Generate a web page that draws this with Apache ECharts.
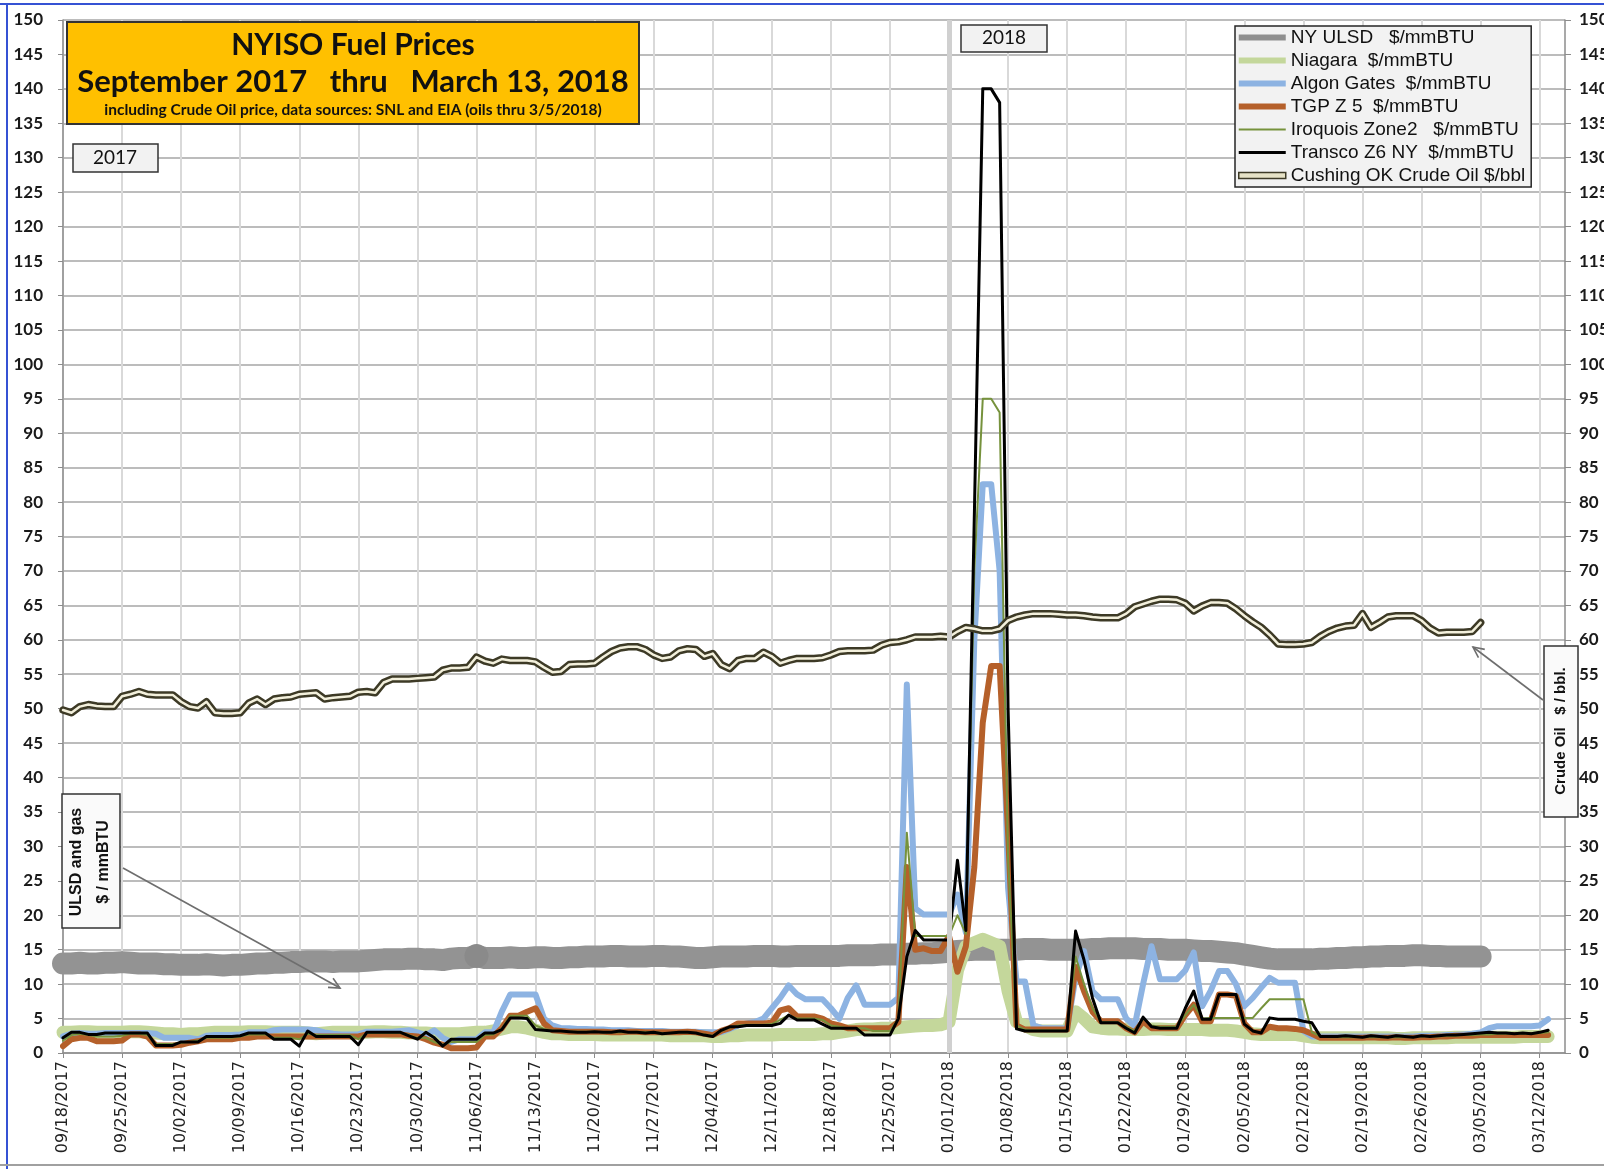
<!DOCTYPE html>
<html>
<head>
<meta charset="utf-8">
<script src="https://cdn.jsdelivr.net/npm/echarts/dist/echarts.min.js"></script>
</head>
<body style="margin:0;background:#fff;">
<div id="main" style="width:1604px;height:1169px;"></div>
<script>
// daily axis, 09/18/2017 .. 03/15/2018
var startDay = [2017, 8, 18];
var dayCount = 179;
var days = [];
for (var i = 0; i < dayCount; i++) {
    var d = new Date(startDay[0], startDay[1], startDay[2] + i);
    var mm = ('0' + (d.getMonth() + 1)).slice(-2), dd = ('0' + d.getDate()).slice(-2);
    days.push(mm + '/' + dd + '/' + d.getFullYear());
}
var yearLineDay = '01/01/2018';

// $/mmBTU, one row per week
var ulsd = [
    13.0, 13.0, 13.1, 13.0, 13.0, 13.1, 13.1,
    13.2, 13.1, 13.0, 13.0, 13.0, 12.9, 12.9,
    12.8, 12.8, 12.8, 12.9, 12.8, 12.7, 12.8,
    12.8, 12.9, 13.0, 13.0, 13.1, 13.1, 13.2,
    13.2, 13.3, 13.3, 13.3, 13.2, 13.3, 13.3,
    13.3, 13.4, 13.5, 13.6, 13.6, 13.6, 13.7,
    13.7, 13.6, 13.6, 13.5, 13.7, 13.8, 13.8,
    14.1, 13.8, 13.8, 13.8, 13.9, 13.8, 13.8,
    13.9, 13.9, 13.8, 13.8, 13.9, 13.9, 14.0,
    14.0, 14.0, 14.1, 14.1, 14.0, 14.0, 14.0,
    14.1, 14.1, 14.0, 14.0, 13.9, 13.8, 13.8,
    13.9, 14.0, 14.0, 14.0, 14.0, 14.1, 14.1,
    14.1, 14.0, 14.0, 14.1, 14.1, 14.1, 14.1,
    14.1, 14.1, 14.2, 14.2, 14.2, 14.2, 14.3,
    14.3, 14.3, 14.4, 14.4, 14.5, 14.5, 14.6,
    14.7, 14.8, 14.9, 15.0, 15.0, 15.0, 15.0,
    15.0, 15.0, 15.1, 15.1, 15.1, 15.0, 15.0,
    15.0, 15.0, 15.0, 15.1, 15.1, 15.2, 15.2,
    15.2, 15.2, 15.1, 15.1, 15.1, 15.0, 15.0,
    15.0, 14.9, 14.8, 14.8, 14.7, 14.6, 14.5,
    14.3, 14.1, 13.9, 13.7, 13.6, 13.6, 13.6,
    13.6, 13.6, 13.7, 13.7, 13.8, 13.8, 13.9,
    13.9, 14.0, 14.0, 14.1, 14.1, 14.1, 14.2,
    14.2, 14.1, 14.1, 14.0, 14.0, 14.0, 14.0,
    14.0, null, null, null, null, null, null,
    null, null, null, null
];
var ulsdDotIndex = 49;

var niagara = [
    3.0, 3.0, 3.1, 3.1, 3.0, 3.0, 3.0,
    3.0, 3.1, 3.1, 3.0, 2.9, 2.8, 2.8,
    2.7, 2.8, 2.8, 2.9, 3.0, 3.0, 3.0,
    3.0, 3.1, 3.1, 3.1, 3.0, 3.0, 3.0,
    3.0, 2.9, 2.8, 2.9, 3.0, 3.0, 3.0,
    3.0, 3.0, 3.1, 3.1, 3.0, 3.0, 2.9,
    2.9, 2.9, 2.8, 2.8, 2.8, 2.8, 2.9,
    3.0, 3.0, 3.2, 3.5, 3.8, 3.8, 3.6,
    3.3, 3.0, 2.8, 2.8, 2.7, 2.7, 2.7,
    2.7, 2.6, 2.6, 2.6, 2.6, 2.6, 2.6,
    2.6, 2.6, 2.5, 2.5, 2.5, 2.5, 2.5,
    2.4, 2.4, 2.5, 2.5, 2.6, 2.6, 2.6,
    2.6, 2.7, 2.7, 2.7, 2.7, 2.7, 2.8,
    2.8, 3.0, 3.2, 3.4, 3.5, 3.5, 3.6,
    3.6, 3.7, 3.8, 3.9, 4.0, 4.0, 4.1,
    4.5, 12.0, 15.5, 16.0, 16.5, 16.0, 15.5,
    9.0, 4.5, 4.0, 3.4, 3.2, 3.2, 3.2,
    3.2, 6.0, 5.0, 3.8, 3.6, 3.5, 3.5,
    3.4, 3.4, 3.4, 3.5, 3.5, 3.4, 3.4,
    3.4, 3.4, 3.4, 3.3, 3.3, 3.3, 3.2,
    3.0, 2.8, 2.7, 2.7, 2.7, 2.7, 2.7,
    2.5, 2.3, 2.2, 2.2, 2.2, 2.2, 2.2,
    2.2, 2.2, 2.2, 2.2, 2.1, 2.1, 2.2,
    2.2, 2.2, 2.2, 2.2, 2.3, 2.3, 2.3,
    2.3, 2.3, 2.3, 2.3, 2.3, 2.4, 2.4,
    2.4, 2.4, null, null
];

var algonquin = [
    2.4, 2.8, 2.9, 2.8, 2.8, 2.9, 2.9,
    2.9, 2.9, 2.9, 2.9, 2.8, 2.2, 2.2,
    2.2, 2.2, 2.0, 2.5, 2.6, 2.6, 2.6,
    2.7, 3.0, 3.0, 3.0, 3.3, 3.4, 3.4,
    3.4, 3.4, 3.3, 3.0, 2.8, 2.7, 2.7,
    2.7, 3.1, 3.1, 3.1, 3.1, 3.2, 3.3,
    3.0, 2.6, 3.3, 2.2, 1.6, 2.0, 2.0,
    2.0, 3.0, 3.0, 6.0, 8.5, 8.5, 8.5,
    8.5, 5.0, 4.0, 3.6, 3.6, 3.5, 3.5,
    3.4, 3.4, 3.3, 3.3, 3.3, 3.2, 3.2,
    3.2, 3.2, 3.1, 3.1, 3.1, 3.1, 3.0,
    3.0, 3.0, 3.5, 4.0, 4.3, 4.5, 5.0,
    6.5, 8.0, 9.8, 8.5, 7.8, 7.8, 7.8,
    6.5, 5.0, 8.0, 9.8, 7.0, 7.0, 7.0,
    7.0, 8.0, 53.5, 21.0, 20.1, 20.1, 20.1,
    20.1, 23.0, 17.5, 60.0, 82.6, 82.6, 70.0,
    24.0, 10.4, 10.4, 4.0, 3.6, 3.6, 3.6,
    3.6, 11.0, 14.8, 9.0, 7.8, 7.8, 7.8,
    5.0, 3.9, 10.0, 15.5, 10.7, 10.7, 10.7,
    12.0, 14.6, 6.8, 9.0, 11.9, 11.9, 10.0,
    6.8, 8.0, 9.5, 10.9, 10.2, 10.2, 10.2,
    3.2, 2.4, 2.4, 2.4, 2.4, 2.4, 2.4,
    2.4, 2.4, 2.4, 2.4, 2.4, 2.4, 2.4,
    2.5, 2.5, 2.5, 2.6, 2.6, 2.7, 2.8,
    3.0, 3.6, 3.9, 3.9, 3.9, 3.9, 3.9,
    4.0, 4.9, null, null
];

var tgpZ5 = [
    1.0, 2.0, 2.2, 2.2, 1.7, 1.7, 1.7,
    1.8, 2.7, 2.7, 2.4, 1.1, 1.1, 1.1,
    1.2, 1.5, 1.7, 2.0, 2.0, 2.0, 2.0,
    2.2, 2.2, 2.4, 2.4, 2.4, 2.4, 2.4,
    2.4, 2.4, 2.4, 2.4, 2.4, 2.4, 2.4,
    2.4, 2.7, 2.7, 2.7, 2.7, 2.7, 2.5,
    2.4, 2.0, 1.5, 1.2, 0.7, 0.7, 0.7,
    0.8, 2.4, 2.4, 3.6, 5.4, 5.4, 6.0,
    6.5, 4.3, 3.3, 3.2, 3.1, 3.1, 3.1,
    3.1, 3.1, 3.0, 3.0, 3.1, 3.1, 3.0,
    3.0, 3.0, 3.0, 3.0, 3.1, 3.0, 2.8,
    2.6, 3.2, 3.6, 4.3, 4.3, 4.3, 4.3,
    4.4, 6.2, 6.5, 5.3, 5.3, 5.3, 5.0,
    4.3, 4.0, 3.6, 3.6, 3.6, 3.6, 3.6,
    3.6, 4.5, 27.0, 15.0, 15.2, 14.8, 14.8,
    17.0, 11.8, 15.5, 27.0, 48.0, 56.2, 56.2,
    32.0, 4.0, 3.4, 3.4, 3.4, 3.4, 3.4,
    3.4, 12.5, 9.0, 6.0, 4.6, 4.6, 4.6,
    3.6, 3.0, 4.6, 3.6, 3.6, 3.6, 3.6,
    5.5, 7.0, 4.6, 4.6, 8.5, 8.5, 8.3,
    4.3, 3.0, 3.0, 3.8, 3.6, 3.6, 3.5,
    3.3, 2.8, 2.2, 2.2, 2.2, 2.2, 2.2,
    2.2, 2.3, 2.2, 2.2, 2.3, 2.2, 2.2,
    2.3, 2.3, 2.4, 2.4, 2.5, 2.5, 2.5,
    2.6, 2.6, 2.6, 2.6, 2.6, 2.6, 2.6,
    2.6, 2.6, null, null
];

var iroquois = [
    1.8, 2.6, 2.8, 2.6, 2.4, 2.4, 2.4,
    2.5, 2.8, 2.8, 2.6, 1.3, 1.3, 1.3,
    1.5, 1.6, 1.8, 2.2, 2.2, 2.2, 2.2,
    2.4, 2.7, 2.7, 2.7, 2.2, 2.2, 2.2,
    2.0, 2.8, 2.6, 2.6, 2.6, 2.6, 2.6,
    2.0, 2.9, 2.9, 2.9, 2.9, 2.9, 2.6,
    2.2, 2.2, 1.6, 1.2, 1.6, 1.6, 1.6,
    1.6, 2.6, 2.7, 3.5, 5.4, 5.4, 5.4,
    4.0, 3.5, 3.3, 3.2, 3.1, 3.1, 3.1,
    3.1, 3.0, 3.0, 3.0, 3.0, 3.1, 3.0,
    3.0, 2.9, 2.9, 3.0, 3.0, 2.9, 2.7,
    2.5, 3.2, 3.7, 4.0, 4.1, 4.1, 4.1,
    4.2, 4.8, 5.5, 5.0, 5.0, 5.0, 4.8,
    4.0, 3.8, 3.6, 3.6, 3.6, 3.2, 3.2,
    3.2, 5.0, 32.0, 17.0, 17.0, 17.0, 17.0,
    17.0, 20.0, 17.3, 70.0, 95.0, 95.0, 93.0,
    28.0, 4.0, 3.4, 3.3, 3.3, 3.3, 3.3,
    3.3, 14.0, 10.0, 6.5, 4.5, 4.5, 4.5,
    3.8, 3.2, 5.0, 4.0, 3.8, 3.8, 3.8,
    5.5, 7.0, 5.0, 5.1, 5.1, 5.1, 5.1,
    5.1, 5.1, 6.5, 7.8, 7.8, 7.8, 7.8,
    7.8, 3.0, 2.4, 2.3, 2.3, 2.3, 2.3,
    2.3, 2.3, 2.3, 2.3, 2.3, 2.3, 2.3,
    2.4, 2.4, 2.4, 2.5, 2.5, 2.6, 2.6,
    2.7, 2.7, 2.8, 2.8, 2.8, 2.8, 2.8,
    2.9, 3.0, null, null
];

var transco = [
    2.2, 3.0, 3.0, 2.7, 2.7, 2.9, 2.9,
    2.9, 2.9, 2.9, 2.9, 1.1, 1.1, 1.1,
    1.6, 1.6, 1.6, 2.4, 2.4, 2.4, 2.4,
    2.5, 2.9, 2.9, 2.9, 2.0, 2.0, 2.0,
    1.0, 3.2, 2.4, 2.4, 2.4, 2.4, 2.4,
    1.2, 3.0, 3.0, 3.0, 3.0, 3.0, 2.5,
    2.0, 3.0, 2.2, 1.0, 2.0, 2.0, 2.0,
    2.0, 2.9, 2.9, 3.4, 5.1, 5.1, 5.0,
    3.4, 3.3, 3.2, 3.2, 3.1, 3.0, 3.0,
    3.1, 3.0, 3.0, 3.2, 3.0, 3.0, 2.9,
    3.0, 2.8, 2.9, 3.0, 3.0, 2.9, 2.6,
    2.4, 3.3, 3.8, 3.8, 4.0, 4.0, 4.0,
    4.0, 4.3, 5.5, 4.8, 4.8, 4.8, 4.2,
    3.6, 3.6, 3.6, 3.6, 2.6, 2.6, 2.6,
    2.6, 5.0, 14.0, 17.8, 16.4, 16.4, 16.4,
    16.4, 28.0, 17.8, 78.0, 140.0, 140.0, 138.0,
    50.0, 3.5, 3.2, 3.2, 3.2, 3.2, 3.2,
    3.2, 17.7, 13.5, 8.0, 4.4, 4.4, 4.4,
    3.6, 2.9, 5.2, 3.8, 3.6, 3.6, 3.6,
    6.5, 9.0, 4.9, 4.9, 8.5, 8.5, 8.5,
    4.2, 3.2, 2.9, 5.1, 4.9, 4.9, 4.9,
    4.6, 4.4, 2.4, 2.4, 2.4, 2.5, 2.4,
    2.3, 2.5, 2.4, 2.3, 2.5, 2.4, 2.3,
    2.5, 2.4, 2.5, 2.6, 2.6, 2.7, 2.8,
    2.9, 3.0, 2.9, 2.9, 2.8, 2.9, 2.8,
    3.0, 3.3, null, null
];

// $/bbl
var crude = [
    49.8, 49.4, 50.3, 50.6, 50.4, 50.3, 50.3,
    51.8, 52.1, 52.5, 52.1, 52.0, 52.0, 52.0,
    51.0, 50.3, 50.1, 51.0, 49.4, 49.3, 49.3,
    49.4, 50.8, 51.4, 50.6, 51.4, 51.6, 51.7,
    52.1, 52.2, 52.3, 51.4, 51.6, 51.7, 51.8,
    52.4, 52.5, 52.3, 53.8, 54.3, 54.3, 54.3,
    54.4, 54.5, 54.6, 55.6, 55.9, 55.9, 56.0,
    57.5, 56.9, 56.6, 57.2, 57.0, 57.0, 57.0,
    56.8, 56.0, 55.3, 55.4, 56.4, 56.5, 56.5,
    56.6, 57.5, 58.3, 58.8, 59.0, 59.0, 58.6,
    57.8, 57.3, 57.5, 58.4, 58.7, 58.6, 57.6,
    58.0, 56.4, 55.8, 57.0, 57.3, 57.3, 58.2,
    57.6, 56.6, 57.0, 57.3, 57.3, 57.3, 57.4,
    57.8, 58.3, 58.4, 58.4, 58.4, 58.5, 59.2,
    59.6, 59.7, 60.0, 60.4, 60.4, 60.4, 60.5,
    60.4, 61.2, 61.8, 61.6, 61.3, 61.3, 61.6,
    62.8, 63.3, 63.6, 63.8, 63.8, 63.8, 63.7,
    63.6, 63.6, 63.5, 63.3, 63.2, 63.2, 63.2,
    63.8, 64.8, 65.2, 65.6, 65.9, 65.9, 65.8,
    65.3, 64.2, 64.9, 65.4, 65.4, 65.3, 64.5,
    63.5, 62.6, 61.8, 60.7, 59.4, 59.3, 59.3,
    59.4, 59.6, 60.5, 61.2, 61.7, 62.0, 62.1,
    63.8, 61.8, 62.5, 63.3, 63.5, 63.5, 63.5,
    62.8, 61.7, 61.0, 61.1, 61.1, 61.1, 61.2,
    62.5, null, null, null, null, null, null,
    null, null, null, null
];

var names = {
    ulsd: 'NY ULSD   $/mmBTU',
    niagara: 'Niagara  $/mmBTU',
    algonquin: 'Algon Gates  $/mmBTU',
    tgp: 'TGP Z 5  $/mmBTU',
    iroquois: 'Iroquois Zone2   $/mmBTU',
    transco: 'Transco Z6 NY  $/mmBTU',
    crude: 'Cushing OK Crude Oil $/bbl'
};

var ulsdData = ulsd.map(function (v, i) {
    return i === ulsdDotIndex ? {value: v, symbol: 'circle', symbolSize: 24} : v;
});

function arrow(x1, y1, x2, y2) {
    var a = Math.atan2(y2 - y1, x2 - x1), L = 12, s = 0.45;
    return [
        {type: 'line', z: 100, shape: {x1: x1, y1: y1, x2: x2, y2: y2}, style: {stroke: '#6e6e6e', lineWidth: 1.6}},
        {type: 'polyline', z: 100, shape: {points: [
            [x2 - L * Math.cos(a - s), y2 - L * Math.sin(a - s)], [x2, y2],
            [x2 - L * Math.cos(a + s), y2 - L * Math.sin(a + s)]]},
            style: {stroke: '#6e6e6e', lineWidth: 1.6, fill: null}}
    ];
}

function lineSeries(name, data, color, width, extra) {
    var s = {
        name: name, type: 'line', data: data, color: color,
        symbol: 'none', animation: false, silent: true,
        lineStyle: {width: width, color: color, cap: 'round', join: 'round'}
    };
    for (var k in extra) s[k] = extra[k];
    return s;
}

function box(x, y, w, h, fill) {
    return {type: 'rect', z: 100, shape: {x: x, y: y, width: w, height: h}, style: {fill: fill, stroke: '#333', lineWidth: 1.5}};
}

function label(x, y, text, size, weight, family, rot) {
    return {type: 'text', z: 101, x: x, y: y, rotation: rot || 0, style: {
        text: text, fontFamily: family || 'Lato', fontWeight: weight || 'normal', fontSize: size,
        fill: '#111', align: 'center', verticalAlign: 'middle'}};
}

var myChart = echarts.init(document.getElementById('main'));

var option = {
    backgroundColor: '#ffffff',
    grid: {left: 63, right: 39, top: 20, bottom: 116, outerBoundsMode: 'none'},
    legend: {
        orient: 'vertical', left: 1235, top: 26,
        padding: [2, 6, 2, 3],
        backgroundColor: '#f2f2f2', borderColor: '#262626', borderWidth: 1.5,
        itemWidth: 47, itemHeight: 14, itemGap: 4,
        selectedMode: false,
        textStyle: {fontFamily: 'Liberation Sans', fontSize: 19, color: '#111', lineHeight: 19},
        data: [
            {name: names.ulsd, icon: 'path://M0,0H48V6H0Z', itemStyle: {color: '#8f8f8f'}},
            {name: names.niagara, icon: 'path://M0,0H48V6H0Z', itemStyle: {color: '#c4d79b'}},
            {name: names.algonquin, icon: 'path://M0,0H48V6H0Z', itemStyle: {color: '#8db3e2'}},
            {name: names.tgp, icon: 'path://M0,0H48V6H0Z', itemStyle: {color: '#b5602a'}},
            {name: names.iroquois, icon: 'path://M0,0H48V2H0Z', itemStyle: {color: '#76923c'}},
            {name: names.transco, icon: 'path://M0,0H48V3H0Z', itemStyle: {color: '#000'}},
            {name: names.crude, icon: 'path://M0,0H48V6H0Z',
                itemStyle: {color: '#e6e2c6', borderColor: '#3d3a26', borderWidth: 1.5}}
        ]
    },
    xAxis: {
        type: 'category', data: days, boundaryGap: false,
        axisLine: {lineStyle: {color: '#8c8c8c', width: 1.5}},
        axisTick: {show: true, interval: 6, length: 5, lineStyle: {color: '#8c8c8c'}},
        axisLabel: {interval: 6, rotate: 90, margin: 8, fontFamily: 'DejaVu Sans', fontSize: 16, color: '#222'},
        splitLine: {show: true, interval: 6, lineStyle: {color: '#d9d9d9', width: 2}}
    },
    yAxis: [{
        type: 'value', position: 'left', min: 0, max: 150, interval: 5,
        axisLine: {show: true, lineStyle: {color: '#8c8c8c', width: 1.5}},
        axisTick: {show: true, length: 5, lineStyle: {color: '#8c8c8c'}},
        axisLabel: {margin: 20, fontFamily: 'Lato', fontWeight: 'bold', fontSize: 17, color: '#1a1a1a'},
        splitLine: {lineStyle: {color: '#a6a6a6', width: 1.6}}
    }, {
        type: 'value', position: 'right', min: 0, max: 150, interval: 5,
        axisLine: {show: true, lineStyle: {color: '#8c8c8c', width: 1.5}},
        axisTick: {show: true, length: 6, lineStyle: {color: '#8c8c8c'}},
        axisLabel: {margin: 14, fontFamily: 'Lato', fontWeight: 'bold', fontSize: 17, color: '#1a1a1a'},
        splitLine: {show: false}
    }],
    series: [
        lineSeries(names.ulsd, ulsdData, '#939393', 22, {
            showSymbol: true, showAllSymbol: true,
            itemStyle: {color: '#8a8a8a'},
            markLine: {
                silent: true, symbol: ['none', 'none'], label: {show: false},
                lineStyle: {color: '#d0d0d0', width: 5, type: 'solid'},
                data: [{xAxis: yearLineDay}]
            }
        }),
        lineSeries(names.niagara, niagara, '#c4d79b', 13),
        lineSeries(names.algonquin, algonquin, '#8db3e2', 6),
        lineSeries(names.tgp, tgpZ5, '#b5602a', 6),
        lineSeries(names.iroquois, iroquois, '#76923c', 2),
        lineSeries(names.transco, transco, '#000000', 3),
        lineSeries(names.crude, crude, '#3d3a26', 7.5, {yAxisIndex: 1}),
        lineSeries('crude inner', crude, '#f3f0dc', 2.5, {yAxisIndex: 1})
    ],
    graphic: [
        // frame
        {type: 'line', z: 100, shape: {x1: 0, y1: 4, x2: 1604, y2: 4}, style: {stroke: '#3552d4', lineWidth: 2}},
        {type: 'line', z: 100, shape: {x1: 7, y1: 4, x2: 7, y2: 1169}, style: {stroke: '#3552d4', lineWidth: 2}},
        {type: 'line', z: 100, shape: {x1: 0, y1: 1165, x2: 1604, y2: 1165}, style: {stroke: '#a0a0a0', lineWidth: 2}},
        // title box
        {type: 'rect', z: 100, shape: {x: 67, y: 22, width: 572, height: 102}, style: {fill: '#ffc000', stroke: '#333', lineWidth: 2}},
        label(353, 45, 'NYISO Fuel Prices', 30, 'bold'),
        label(353, 82, 'September 2017   thru   March 13, 2018', 31, 'bold'),
        label(353, 110, 'including Crude Oil price, data sources: SNL and EIA (oils thru 3/5/2018)', 15.5, 'bold'),
        // year boxes
        box(73, 144, 85, 28, '#f2f2f2'),
        label(115, 158, '2017', 19),
        box(961, 25, 86, 27, '#f2f2f2'),
        label(1004, 38, '2018', 19),
        // unit notes
        box(62, 794, 58, 134, '#fafafa'),
        label(77, 862, 'ULSD and gas', 16, 'bold', 'Liberation Sans', Math.PI / 2),
        label(104, 862, '$ / mmBTU', 16, 'bold', 'Liberation Sans', Math.PI / 2),
        box(1544, 646, 34, 171, '#fafafa'),
        label(1561, 731, 'Crude Oil   $ / bbl.', 15, 'bold', 'Liberation Sans', Math.PI / 2)
    ].concat(arrow(123, 868, 340, 988)).concat(arrow(1543, 700, 1473, 647))
};
myChart.setOption(option);
</script>
</body>
</html>
